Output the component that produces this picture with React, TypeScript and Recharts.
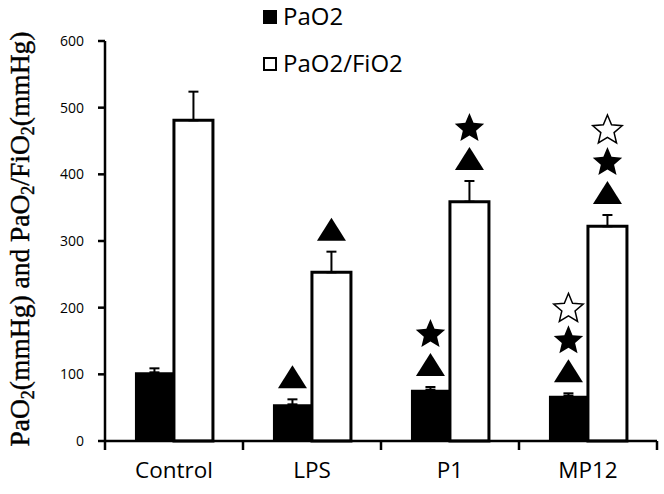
import React from "react";
import { BarChart, Bar, XAxis, YAxis, ErrorBar, LabelList, Legend } from "recharts";

const groups = ["Control", "LPS", "P1", "MP12"];
const pao2 = [103, 55, 77, 68];
const pao2Err = [6, 7.5, 4, 3.5];
const ratio = [481, 253, 359, 322];
const ratioErr = [43, 31, 31, 17];
// tri = vs Control, star = vs LPS, open = vs P1
const pao2Marks = [[], ["tri"], ["tri", "star"], ["tri", "star", "open"]];
const ratioMarks = [[], ["tri"], ["tri", "star"], ["tri", "star", "open"]];
const yTicks = [0, 100, 200, 300, 400, 500, 600];
const legendItems = [
  { name: "PaO2", filled: true },
  { name: "PaO2/FiO2", filled: false },
];

const data = groups.map((g, i) => ({
  group: g,
  pao2: pao2[i],
  pao2Err: [0, pao2Err[i]],
  ratio: ratio[i],
  ratioErr: [0, ratioErr[i]],
}));

const SANS = "'Open Sans', 'Liberation Sans', sans-serif";

const starPath = (cx: number, cy: number, R: number, r: number) => {
  let d = "";
  for (let k = 0; k < 10; k++) {
    const a = ((-90 + k * 36) * Math.PI) / 180;
    const rad = k % 2 === 0 ? R : r;
    d += (k === 0 ? "M" : "L") + (cx + rad * Math.cos(a)).toFixed(2) + "," + (cy + rad * Math.sin(a)).toFixed(2);
  }
  return d + "Z";
};

const makeMarks = (marks: string[][], values: number[], errs: number[]) => (props: any) => {
  const vb = props.viewBox || props;
  const x = Number(vb.x);
  const y = Number(vb.y);
  const w = Number(vb.width);
  const h = Number(vb.height);
  const i = props.index;
  const list = marks[i] || [];
  if (!list.length) return null;
  const pxPerUnit = h / values[i];
  const cx = x + w / 2;
  let bottom = y - errs[i] * pxPerUnit - 11;
  const out: React.ReactNode[] = [];
  list.forEach((m, k) => {
    if (m === "tri") {
      const th = 23;
      out.push(
        <path key={k} d={`M${cx - 14.5},${bottom} L${cx + 14.5},${bottom} L${cx},${bottom - th} Z`} fill="#000" />
      );
      bottom -= th + 6;
    } else {
      const sh = 28;
      const R = sh / 1.809;
      const cy = bottom - 0.809 * R;
      out.push(
        <path
          key={k}
          d={starPath(cx, cy, R, R * 0.45)}
          fill={m === "open" ? "#fff" : "#000"}
          stroke="#000"
          strokeWidth={m === "open" ? 1.5 : 0}
        />
      );
      bottom -= sh + 4;
    }
  });
  return <g>{out}</g>;
};

const CategoryTick = (props: any) => {
  const { x, y, payload, index, width, visibleTicksCount } = props;
  const half = width / (2 * (visibleTicksCount || groups.length));
  return (
    <g>
      <line x1={x - half} y1={y} x2={x - half} y2={y + 9} stroke="#000" strokeWidth={2.5} />
      {index === groups.length - 1 && (
        <line x1={x + half} y1={y} x2={x + half} y2={y + 9} stroke="#000" strokeWidth={2.5} />
      )}
      <text x={x} y={y + 37} textAnchor="middle" fontFamily={SANS} fontSize={22.5} fill="#000">
        {payload.value}
      </text>
    </g>
  );
};

const YLabel = (props: any) => {
  const vb = props.viewBox || {};
  const cx = 29;
  const cy = Number(vb.y) + Number(vb.height) / 2 - 2;
  return (
    <text
      x={cx}
      y={cy}
      transform={`rotate(-90 ${cx} ${cy})`}
      textAnchor="middle"
      fontFamily="'Liberation Serif', 'Times New Roman', serif"
      fontSize={27.5}
      fill="#000"
      stroke="#000"
      strokeWidth={0.4}
    >
      <tspan>PaO</tspan>
      <tspan fontSize={18} dy={5}>2</tspan>
      <tspan dy={-5}>(mmHg) and PaO</tspan>
      <tspan fontSize={18} dy={5}>2</tspan>
      <tspan dy={-5}>/FiO</tspan>
      <tspan fontSize={18} dy={5}>2</tspan>
      <tspan dy={-5}>(mmHg)</tspan>
    </text>
  );
};

const LegendBox = () => (
  <div style={{ fontFamily: SANS, fontSize: 24, lineHeight: "47px", color: "#000", whiteSpace: "nowrap" }}>
    {legendItems.map((it) => (
      <div key={it.name}>
        <span
          style={{
            display: "inline-block",
            width: 14,
            height: 14,
            boxSizing: "border-box",
            background: it.filled ? "#000" : "#fff",
            border: "2.5px solid #000",
            marginRight: 6,
            marginBottom: 1,
            verticalAlign: "baseline",
          }}
        />
        {it.name}
      </div>
    ))}
  </div>
);

export default function App() {
  return (
    <div style={{ position: "absolute", left: 0, top: 0, background: "#fff" }}>
      <BarChart
        width={664}
        height={494}
        data={data}
        margin={{ top: 41, right: 7, bottom: 0, left: 0 }}
        barCategoryGap="21.7%"
        barGap={0}
      >
        <XAxis
          dataKey="group"
          height={53}
          interval={0}
          tickLine={false}
          tickSize={0}
          tickMargin={0}
          axisLine={{ stroke: "#000", strokeWidth: 2.5 }}
          tick={<CategoryTick />}
        />
        <YAxis
          width={105}
          domain={[0, 600]}
          ticks={yTicks}
          interval={0}
          tickSize={7}
          tickMargin={14}
          axisLine={{ stroke: "#000", strokeWidth: 2.5 }}
          tickLine={{ stroke: "#000", strokeWidth: 2.5 }}
          tick={{ fill: "#000", fontSize: 14, fontFamily: SANS }}
          label={<YLabel />}
        />
        <Legend
          layout="vertical"
          align="center"
          verticalAlign="middle"
          content={<LegendBox />}
          wrapperStyle={{ left: 263, top: -8, width: 200 }}
        />
        <Bar dataKey="pao2" name="PaO2" fill="#000" isAnimationActive={false}>
          <ErrorBar dataKey="pao2Err" width={5} stroke="#000" strokeWidth={2} direction="y" />
          <LabelList dataKey="pao2" content={makeMarks(pao2Marks, pao2, pao2Err)} />
        </Bar>
        <Bar dataKey="ratio" name="PaO2/FiO2" fill="#fff" stroke="#000" strokeWidth={3} isAnimationActive={false}>
          <ErrorBar dataKey="ratioErr" width={5} stroke="#000" strokeWidth={2} direction="y" />
          <LabelList dataKey="ratio" content={makeMarks(ratioMarks, ratio, ratioErr)} />
        </Bar>
      </BarChart>
    </div>
  );
}
